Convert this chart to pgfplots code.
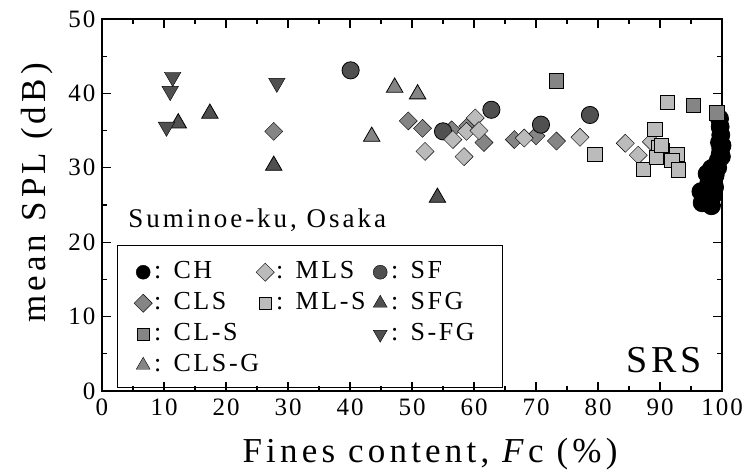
\documentclass[border=0pt]{standalone}
\usepackage{fontspec}
\setmainfont{Liberation Serif}[LetterSpace=10]
\newfontfamily\tickfont{Liberation Serif}[LetterSpace=8]
\newfontfamily\labfont{Liberation Serif}[LetterSpace=12]
\newfontfamily\notefont{Liberation Serif}[LetterSpace=11]
\usepackage{pgfplots}
\pgfplotsset{compat=1.18}

\definecolor{dk}{HTML}{505050}
\definecolor{md}{HTML}{858585}
\definecolor{lt}{HTML}{BBBBBB}

% common frame for the overlaid axes
\pgfplotsset{
    frame/.style={
        scale only axis, width=620pt, height=372pt,
        xmin=0, xmax=100, ymin=0, ymax=50,
    },
    leg/.style={
        legend image code/.code={
            \path[draw=none, fill=none] (-9.5pt,-6pt) rectangle (9.5pt,6pt);
            \draw[##1] plot coordinates {(0pt,0pt)};
        },
        legend style={
            at={(axis cs:#1,17.94)}, anchor=north west,
            draw=none, fill=none, inner sep=0pt,
            font=\fontsize{26}{26}\selectfont,
            cells={anchor=west},
            nodes={inner xsep=1.5pt, inner ysep=3pt, text height=18pt, text depth=5pt},
            row sep=2pt,
        },
    },
    lm/.style={only marks, mark options={draw=black, line width=0.8pt}},
}

\begin{document}
\begin{tikzpicture}
\begin{axis}[
    frame, leg=5.08,
    xtick distance=10, ytick distance=10,
    minor x tick num=1, minor y tick num=1,
    tick align=inside,
    major tick length=9pt, minor tick length=5pt,
    axis line style={line width=1.4pt},
    every tick/.style={black, line width=1.1pt},
    tick label style={font=\fontsize{25}{25}\selectfont\tickfont},
    /pgf/number format/assume math mode=true,
    xticklabel shift=4pt, yticklabel shift=3pt,
    xlabel={Fines content, \textit{F}c (\%)},
    ylabel={mean SPL (dB)},
    label style={font=\fontsize{35}{35}\selectfont\labfont},
    x label style={at={(axis description cs:0.529,-0.191)}, anchor=base},
    y label style={at={(axis description cs:-0.105,0.532)}, anchor=center},
    clip=false,
    only marks,
    mark options={draw=black, line width=0.8pt},
]

% CH
\addplot[mark=*, mark size=9pt, fill=black, forget plot] coordinates {
(99.6,36.6) (99.7,35.5) (99.8,34.4) (99.6,33.4) (99.8,32.6) (99.7,31.8)
(99.4,31.0) (99.0,30.3) (98.3,29.9) (97.6,29.2) (98.9,29.0) (97.9,28.1)
(98.8,27.4) (96.6,26.8) (98.4,26.1) (96.8,25.3) (98.3,24.9) (99.3,30.0)
(100,33.0) (99.9,31.5)
};
% CLS
\addplot[mark=square*, mark size=6.4pt, mark options={rotate=45, fill=md}, forget plot] coordinates {
(27.7,34.9) (49.4,36.3) (51.7,35.3) (56.4,35.1) (59.0,35.6) (61.6,33.4)
(66.5,33.8) (70.0,34.3) (73.3,33.6)
};
% SF
\addplot[mark=*, mark size=8.6pt, fill=dk, forget plot] coordinates {
(40.1,43.1) (55.0,34.9) (62.8,37.8) (70.8,35.8) (78.7,37.1)
};
% MLS
\addplot[mark=square*, mark size=6.4pt, mark options={rotate=45, fill=lt}, forget plot] coordinates {
(52.1,32.2) (56.6,33.8) (58.4,31.5) (58.8,34.9) (60.2,36.7) (60.8,35.0)
(68.1,34.0) (77.1,34.1) (84.4,33.3) (86.5,31.7) (88.6,33.5) (90.0,31.8)
};
% ML-S
\addplot[mark=square*, mark size=7.2pt, fill=lt, forget plot] coordinates {
(79.5,31.8) (91.2,38.8) (89.2,35.2) (87.3,29.8) (89.7,32.7) (90.4,32.3)
(89.4,31.4) (92.7,31.8) (91.9,31.0) (93.0,29.7) (90.2,33.0)
};
% CL-S
\addplot[mark=square*, mark size=7.2pt, fill=md, forget plot] coordinates {
(73.3,41.7) (95.4,38.4) (99.2,37.4)
};
% CLS-G
\addplot[mark=triangle*, mark size=9.5pt, fill=md, forget plot] coordinates {
(43.5,34.2) (47.2,40.8) (50.9,39.9)
};
% SFG
\addplot[mark=triangle*, mark size=9.5pt, fill=dk, forget plot] coordinates {
(12.3,36.0) (17.4,37.3) (27.7,30.3) (54.1,26.0)
};
% S-FG
\addplot[mark=triangle*, mark size=9.5pt, mark options={rotate=180, fill=dk}, forget plot] coordinates {
(11.4,42.2) (11.0,40.3) (10.4,35.5) (28.2,41.4)
};

% legend, first column
\addlegendimage{lm, mark=*, mark size=7pt, mark options={fill=black}}
\addlegendentry{: CH}
\addlegendimage{lm, mark=square*, mark size=6.4pt, mark options={rotate=45, fill=md}}
\addlegendentry{: CLS}
\addlegendimage{lm, mark=square*, mark size=6pt, mark options={fill=md}}
\addlegendentry{: CL-S}
\addlegendimage{lm, mark=triangle*, mark size=8pt, mark options={fill=md}}
\addlegendentry{: CLS-G}

% legend frame
\draw[line width=0.8pt] (axis cs:2.42,0.54) rectangle (axis cs:64.5,19.62);

\node[anchor=base west, font=\fontsize{27}{27}\selectfont\notefont] at (axis cs:3.7,22) {Suminoe-ku, Osaka};
\node[anchor=base east, font=\fontsize{38}{38}\selectfont] at (axis cs:97.3,2.55) {SRS};
\end{axis}

% legend, second column
\begin{axis}[frame, hide axis, leg=24.76]
\addlegendimage{lm, mark=square*, mark size=6.4pt, mark options={rotate=45, fill=lt}}
\addlegendentry{: MLS}
\addlegendimage{lm, mark=square*, mark size=6pt, mark options={fill=lt}}
\addlegendentry{: ML-S}
\end{axis}

% legend, third column
\begin{axis}[frame, hide axis, leg=43.31]
\addlegendimage{lm, mark=*, mark size=7pt, mark options={fill=dk}}
\addlegendentry{: SF}
\addlegendimage{lm, mark=triangle*, mark size=8pt, mark options={fill=dk}}
\addlegendentry{: SFG}
\addlegendimage{lm, mark=triangle*, mark size=8pt, mark options={rotate=180, fill=dk}}
\addlegendentry{: S-FG}
\end{axis}

\pgfresetboundingbox
\path (current axis.south west) ++(-102pt,-80pt) rectangle ++(743pt,471pt);
\end{tikzpicture}
\end{document}
